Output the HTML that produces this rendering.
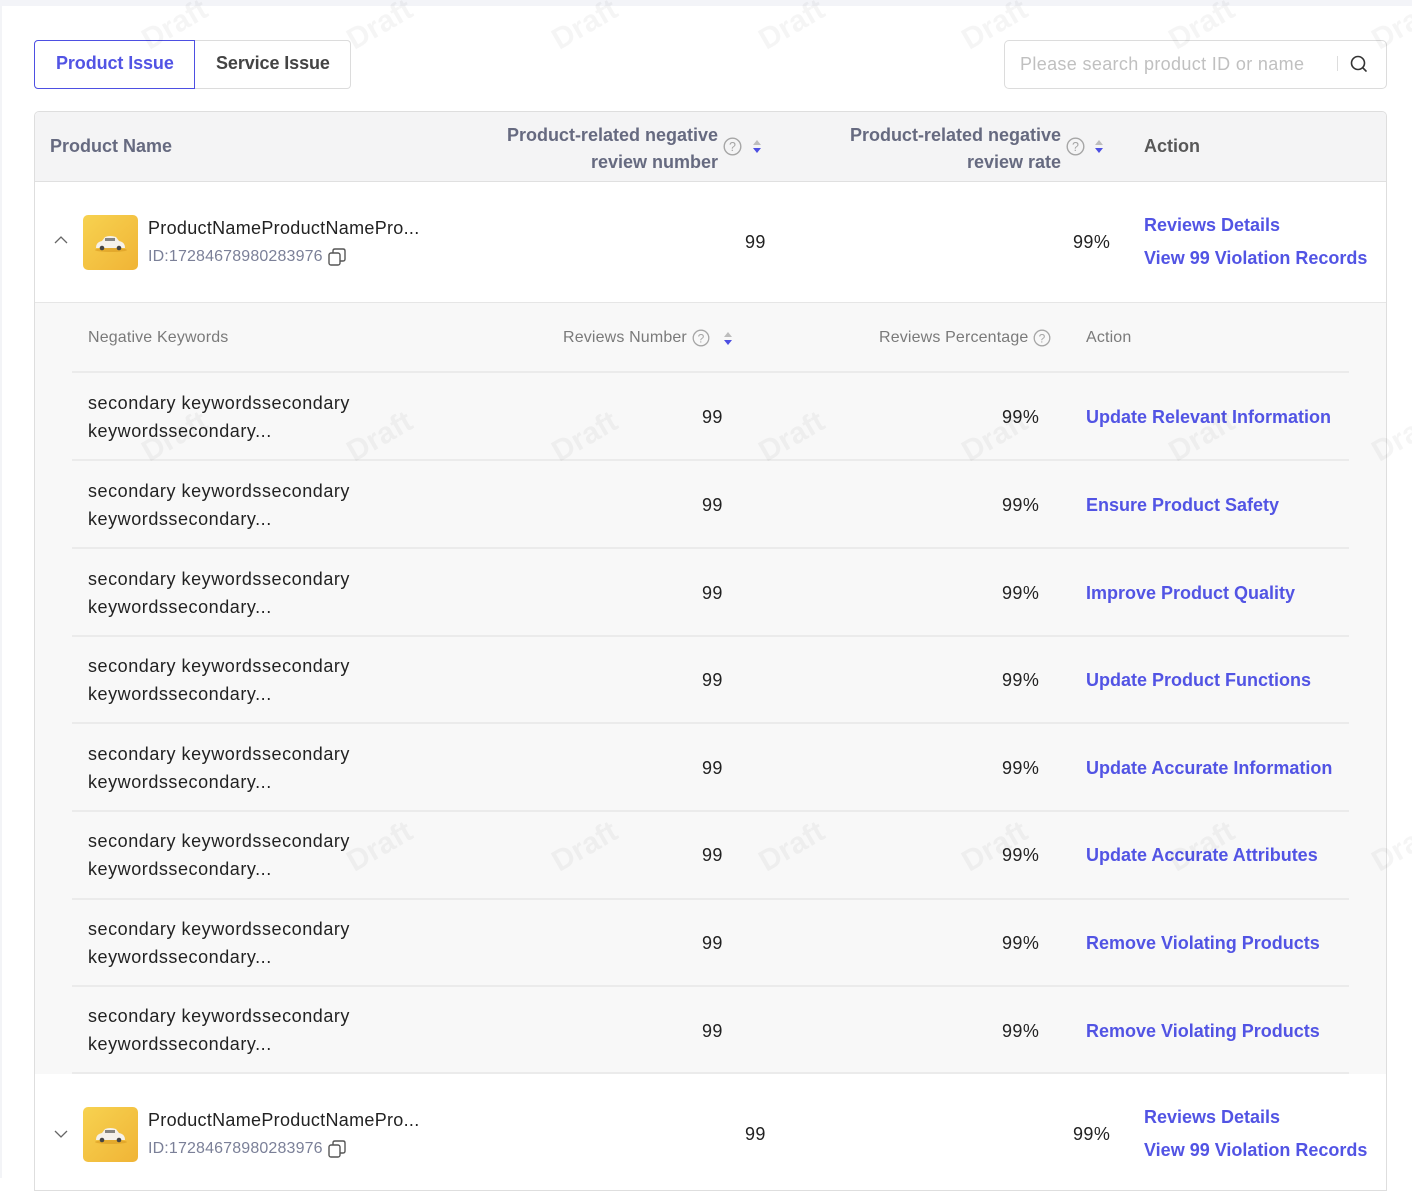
<!DOCTYPE html>
<html><head><meta charset="utf-8">
<style>
*{margin:0;padding:0;box-sizing:border-box}
html,body{width:1412px;height:1178px;overflow:hidden;background:#fff;font-family:"Liberation Sans",Arial,sans-serif}
.a{position:absolute;white-space:nowrap}
.wm{position:absolute;font-size:30px;font-weight:bold;color:rgba(0,0,0,0.04);transform:rotate(-30deg);transform-origin:center;white-space:nowrap}
.hd{font-size:18px;font-weight:bold;color:#666a80}
.sh{font-size:16px;color:#7a7a7a;letter-spacing:.15px}
.kw{font-size:18px;color:#222;letter-spacing:.55px;line-height:27.5px}
.num{font-size:18px;color:#222;letter-spacing:.4px}
.lk{font-size:18px;font-weight:bold;color:#5254e4}
.line{position:absolute;left:72px;width:1277px;height:2px;background:#ebebeb}
</style></head><body>
<!-- top strip -->
<div class="a" style="left:0;top:0;width:1412px;height:6px;background:#f3f4f8"></div>
<div class="a" style="left:0;top:6px;width:2px;height:1172px;background:#f3f4f7"></div>

<!-- tabs -->
<div class="a" style="left:194px;top:40px;width:157px;height:49px;border:1px solid #dcdcdc;border-left:none;border-radius:0 4px 4px 0"></div>
<div class="a" style="left:34px;top:40px;width:161px;height:49px;border:1.5px solid #4d4fe2;border-radius:4px 0 0 4px"></div>
<div class="a" style="left:56px;top:53px;font-size:18px;font-weight:bold;color:#5254e4;letter-spacing:-.1px">Product Issue</div>
<div class="a" style="left:216px;top:53px;font-size:18px;font-weight:bold;color:#444;letter-spacing:-.1px">Service Issue</div>

<!-- search -->
<div class="a" style="left:1004px;top:40px;width:383px;height:49px;border:1px solid #dcdcdc;border-radius:5px"></div>
<div class="a" style="left:1020px;top:54px;font-size:18px;color:#c0c0c0;letter-spacing:.35px">Please search product ID or name</div>
<div class="a" style="left:1337px;top:56px;width:1px;height:15px;background:#ddd"></div>
<svg class="a" style="left:1348px;top:53px" width="22" height="22" viewBox="0 0 22 22"><circle cx="10" cy="10" r="6.5" fill="none" stroke="#333" stroke-width="1.6"/><line x1="14.8" y1="14.8" x2="18" y2="18" stroke="#333" stroke-width="1.6" stroke-linecap="round"/></svg>

<!-- table frame -->
<div class="a" style="left:34px;top:111px;width:1353px;height:1080px;border:1px solid #dedede;border-radius:5px 5px 0 0;overflow:hidden">
  <div style="position:absolute;left:0;top:0;width:100%;height:70px;background:#f4f4f5;border-bottom:1px solid #e0e0e0"></div>
  <div style="position:absolute;left:0;top:190px;width:100%;height:772px;background:#f8f8f8;border-top:1px solid #e6e6e6"></div>
</div>

<!-- header -->
<div class="a hd" style="left:50px;top:136px">Product Name</div>
<div class="a hd" style="left:480px;top:122px;width:238px;text-align:right;line-height:27px;white-space:normal">Product-related negative<br>review number</div>
<div class="a hd" style="left:820px;top:122px;width:241px;text-align:right;line-height:27px;white-space:normal">Product-related negative<br>review rate</div>
<div class="a" style="left:1144px;top:136px;font-size:18px;font-weight:bold;color:#585858">Action</div>

<!-- help + sort icons header -->
<svg class="a" style="left:723px;top:137px" width="19" height="19" viewBox="0 0 19 19"><circle cx="9.5" cy="9.5" r="8.3" fill="none" stroke="#a6a6a6" stroke-width="1.4"/><text x="9.5" y="14" font-size="12.5" text-anchor="middle" fill="#a6a6a6" font-family="Liberation Sans">?</text></svg>
<svg class="a" style="left:752px;top:139px" width="10" height="16" viewBox="0 0 10 16"><path d="M5 1 L9 6 L1 6 Z" fill="#bdbdbd"/><path d="M1 9 L9 9 L5 14 Z" fill="#4d4fe2"/></svg>
<svg class="a" style="left:1066px;top:137px" width="19" height="19" viewBox="0 0 19 19"><circle cx="9.5" cy="9.5" r="8.3" fill="none" stroke="#a6a6a6" stroke-width="1.4"/><text x="9.5" y="14" font-size="12.5" text-anchor="middle" fill="#a6a6a6" font-family="Liberation Sans">?</text></svg>
<svg class="a" style="left:1094px;top:139px" width="10" height="16" viewBox="0 0 10 16"><path d="M5 1 L9 6 L1 6 Z" fill="#bdbdbd"/><path d="M1 9 L9 9 L5 14 Z" fill="#4d4fe2"/></svg>

<!-- product row 1 -->
<svg class="a" style="left:53px;top:234px" width="16" height="12" viewBox="0 0 16 12"><path d="M2 9 L8 3 L14 9" fill="none" stroke="#666" stroke-width="1.3"/></svg>
<svg class="a" style="left:83px;top:215px" width="55" height="55" viewBox="0 0 55 55">
 <defs><linearGradient id="g1" x1="0" y1="0" x2="1" y2="1"><stop offset="0" stop-color="#f7d250"/><stop offset="1" stop-color="#f0b436"/></linearGradient></defs>
 <rect width="55" height="55" rx="5" fill="url(#g1)"/>
 <ellipse cx="28" cy="35" rx="16" ry="2" fill="#d89a20" opacity=".6"/>
 <path d="M13 33 Q13 27 19 26 L22 22 Q27 20 33 22 L36 26 Q42 27 42 33 Z" fill="#f5f1ea"/>
 <rect x="22" y="23" width="10" height="3" fill="#555" opacity=".7"/>
 <circle cx="19" cy="33" r="2.3" fill="#444"/><circle cx="36" cy="33" r="2.3" fill="#444"/>
</svg>
<div class="a" style="left:148px;top:218px;font-size:18px;color:#222;letter-spacing:.3px">ProductNameProductNamePro...</div>
<div class="a" style="left:148px;top:248px;font-size:16px;color:#7b8098;letter-spacing:.15px">ID:17284678980283976</div>
<svg class="a" style="left:327px;top:247px" width="20" height="20" viewBox="0 0 20 20"><rect x="2" y="6" width="11" height="12" rx="2" fill="none" stroke="#555" stroke-width="1.4"/><path d="M6 6 V4 Q6 2 8 2 H16 Q18 2 18 4 V12 Q18 14 16 14 H13" fill="none" stroke="#555" stroke-width="1.4"/></svg>
<div class="a num" style="left:745px;top:232px">99</div>
<div class="a num" style="left:1073px;top:232px">99%</div>
<div class="a lk" style="left:1144px;top:215px">Reviews Details</div>
<div class="a lk" style="left:1144px;top:248px">View 99 Violation Records</div>

<!-- sub header -->
<div class="a sh" style="left:88px;top:329px">Negative Keywords</div>
<div class="a sh" style="left:563px;top:329px">Reviews Number</div>
<svg class="a" style="left:692px;top:329px" width="18" height="18" viewBox="0 0 18 18"><circle cx="9" cy="9" r="7.8" fill="none" stroke="#a6a6a6" stroke-width="1.3"/><text x="9" y="13.3" font-size="12" text-anchor="middle" fill="#a6a6a6" font-family="Liberation Sans">?</text></svg>
<svg class="a" style="left:723px;top:331px" width="10" height="16" viewBox="0 0 10 16"><path d="M5 1 L9 6 L1 6 Z" fill="#bdbdbd"/><path d="M1 9 L9 9 L5 14 Z" fill="#4d4fe2"/></svg>
<div class="a sh" style="left:879px;top:329px">Reviews Percentage</div>
<svg class="a" style="left:1033px;top:329px" width="18" height="18" viewBox="0 0 18 18"><circle cx="9" cy="9" r="7.8" fill="none" stroke="#a6a6a6" stroke-width="1.3"/><text x="9" y="13.3" font-size="12" text-anchor="middle" fill="#a6a6a6" font-family="Liberation Sans">?</text></svg>
<div class="a sh" style="left:1086px;top:329px">Action</div>

<!-- sub lines -->
<div class="line" style="top:371px"></div>
<div class="line" style="top:459px"></div>
<div class="line" style="top:547px"></div>
<div class="line" style="top:635px"></div>
<div class="line" style="top:722px"></div>
<div class="line" style="top:810px"></div>
<div class="line" style="top:898px"></div>
<div class="line" style="top:985px"></div>
<div class="line" style="top:1072px"></div>

<!-- sub rows -->
<div class="a kw" style="left:88px;top:390px">secondary keywordssecondary<br>keywordssecondary...</div>
<div class="a num" style="left:702px;top:407px">99</div><div class="a num" style="left:1002px;top:407px">99%</div>
<div class="a lk" style="left:1086px;top:407px">Update Relevant Information</div>

<div class="a kw" style="left:88px;top:478px">secondary keywordssecondary<br>keywordssecondary...</div>
<div class="a num" style="left:702px;top:495px">99</div><div class="a num" style="left:1002px;top:495px">99%</div>
<div class="a lk" style="left:1086px;top:495px">Ensure Product Safety</div>

<div class="a kw" style="left:88px;top:566px">secondary keywordssecondary<br>keywordssecondary...</div>
<div class="a num" style="left:702px;top:583px">99</div><div class="a num" style="left:1002px;top:583px">99%</div>
<div class="a lk" style="left:1086px;top:583px">Improve Product Quality</div>

<div class="a kw" style="left:88px;top:653px">secondary keywordssecondary<br>keywordssecondary...</div>
<div class="a num" style="left:702px;top:670px">99</div><div class="a num" style="left:1002px;top:670px">99%</div>
<div class="a lk" style="left:1086px;top:670px">Update Product Functions</div>

<div class="a kw" style="left:88px;top:741px">secondary keywordssecondary<br>keywordssecondary...</div>
<div class="a num" style="left:702px;top:758px">99</div><div class="a num" style="left:1002px;top:758px">99%</div>
<div class="a lk" style="left:1086px;top:758px">Update Accurate Information</div>

<div class="a kw" style="left:88px;top:828px">secondary keywordssecondary<br>keywordssecondary...</div>
<div class="a num" style="left:702px;top:845px">99</div><div class="a num" style="left:1002px;top:845px">99%</div>
<div class="a lk" style="left:1086px;top:845px">Update Accurate Attributes</div>

<div class="a kw" style="left:88px;top:916px">secondary keywordssecondary<br>keywordssecondary...</div>
<div class="a num" style="left:702px;top:933px">99</div><div class="a num" style="left:1002px;top:933px">99%</div>
<div class="a lk" style="left:1086px;top:933px">Remove Violating Products</div>

<div class="a kw" style="left:88px;top:1003px">secondary keywordssecondary<br>keywordssecondary...</div>
<div class="a num" style="left:702px;top:1021px">99</div><div class="a num" style="left:1002px;top:1021px">99%</div>
<div class="a lk" style="left:1086px;top:1021px">Remove Violating Products</div>

<!-- product row 2 -->
<svg class="a" style="left:53px;top:1128px" width="16" height="12" viewBox="0 0 16 12"><path d="M2 3 L8 9 L14 3" fill="none" stroke="#666" stroke-width="1.3"/></svg>
<svg class="a" style="left:83px;top:1107px" width="55" height="55" viewBox="0 0 55 55">
 <defs><linearGradient id="g2" x1="0" y1="0" x2="1" y2="1"><stop offset="0" stop-color="#f7d250"/><stop offset="1" stop-color="#f0b436"/></linearGradient></defs>
 <rect width="55" height="55" rx="5" fill="url(#g2)"/>
 <ellipse cx="28" cy="35" rx="16" ry="2" fill="#d89a20" opacity=".6"/>
 <path d="M13 33 Q13 27 19 26 L22 22 Q27 20 33 22 L36 26 Q42 27 42 33 Z" fill="#f5f1ea"/>
 <rect x="22" y="23" width="10" height="3" fill="#555" opacity=".7"/>
 <circle cx="19" cy="33" r="2.3" fill="#444"/><circle cx="36" cy="33" r="2.3" fill="#444"/>
</svg>
<div class="a" style="left:148px;top:1110px;font-size:18px;color:#222;letter-spacing:.3px">ProductNameProductNamePro...</div>
<div class="a" style="left:148px;top:1140px;font-size:16px;color:#7b8098;letter-spacing:.15px">ID:17284678980283976</div>
<svg class="a" style="left:327px;top:1139px" width="20" height="20" viewBox="0 0 20 20"><rect x="2" y="6" width="11" height="12" rx="2" fill="none" stroke="#555" stroke-width="1.4"/><path d="M6 6 V4 Q6 2 8 2 H16 Q18 2 18 4 V12 Q18 14 16 14 H13" fill="none" stroke="#555" stroke-width="1.4"/></svg>
<div class="a num" style="left:745px;top:1124px">99</div>
<div class="a num" style="left:1073px;top:1124px">99%</div>
<div class="a lk" style="left:1144px;top:1107px">Reviews Details</div>
<div class="a lk" style="left:1144px;top:1140px">View 99 Violation Records</div>

<!-- watermarks -->
<div class="wm" style="left:140px;top:8px">Draft</div>
<div class="wm" style="left:345px;top:8px">Draft</div>
<div class="wm" style="left:550px;top:8px">Draft</div>
<div class="wm" style="left:757px;top:8px">Draft</div>
<div class="wm" style="left:960px;top:8px">Draft</div>
<div class="wm" style="left:1167px;top:8px">Draft</div>
<div class="wm" style="left:1370px;top:8px">Draft</div>
<div class="wm" style="left:140px;top:420px">Draft</div>
<div class="wm" style="left:345px;top:420px">Draft</div>
<div class="wm" style="left:550px;top:420px">Draft</div>
<div class="wm" style="left:757px;top:420px">Draft</div>
<div class="wm" style="left:960px;top:420px">Draft</div>
<div class="wm" style="left:1167px;top:420px">Draft</div>
<div class="wm" style="left:1370px;top:420px">Draft</div>
<div class="wm" style="left:345px;top:830px">Draft</div>
<div class="wm" style="left:550px;top:830px">Draft</div>
<div class="wm" style="left:757px;top:830px">Draft</div>
<div class="wm" style="left:960px;top:830px">Draft</div>
<div class="wm" style="left:1167px;top:830px">Draft</div>
<div class="wm" style="left:1370px;top:830px">Draft</div>
</body></html>
